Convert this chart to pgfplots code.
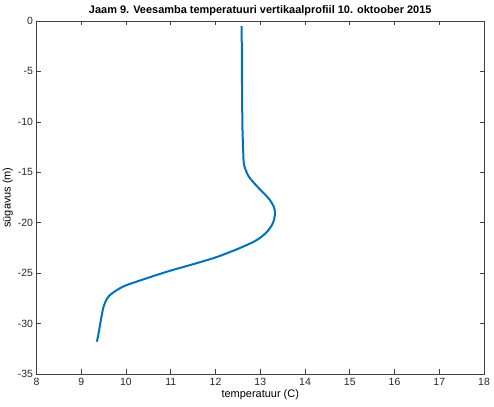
\documentclass[border=0pt]{standalone}
\usepackage{pgfplots}
\pgfplotsset{compat=1.18}
\usepackage{fontspec}
\setmainfont{Liberation Sans}
\definecolor{mblue}{rgb}{0,0.447,0.741}
\begin{document}
\begin{tikzpicture}
\begin{axis}[
  scale only axis,
  width=447.5bp, height=353bp,
  xmin=8, xmax=18, ymin=-35, ymax=0,
  xtick={8,9,...,18},
  ytick={-35,-30,-25,-20,-15,-10,-5,0},
  yticklabels={-35,-30,-25,-20,-15,-10,-5,0},
  tick align=inside,
  major tick length=4.5bp,
  axis line style={black!75, line width=0.6bp},
  tick style={black!75, line width=0.6bp},
  every tick label/.append style={font=\fontsize{10.5}{12}\selectfont, text=black!85},
  /pgf/number format/assume math mode=true,
  xticklabel style={yshift=-1bp},
  yticklabel style={xshift=0bp},
  title={\textbf{Jaam 9. Veesamba temperatuuri vertikaalprofiil 10. oktoober 2015}},
  title style={font=\fontsize{11}{13}\selectfont, yshift=-4bp},
  xlabel={temperatuur (C)},
  ylabel={sügavus (m)},
  label style={font=\fontsize{11}{13}\selectfont},
  xlabel style={yshift=3bp},
  ylabel style={yshift=-2bp},
]
\addplot[mblue, line width=2bp, smooth] coordinates {
(12.585,-0.5) (12.59,-5) (12.60,-10) (12.61,-11.8) (12.62,-13.1) (12.64,-14.3) (12.74,-15.4) (12.93,-16.4) (13.19,-17.6) (13.30,-18.4) (13.33,-19.1) (13.28,-20.06) (13.15,-20.9) (12.93,-21.7) (12.55,-22.5) (12.03,-23.4) (11.51,-24.1) (10.92,-24.85) (10.40,-25.6) (9.95,-26.3) (9.69,-27.0) (9.58,-27.5) (9.50,-28.3) (9.44,-29.6) (9.39,-30.9) (9.35,-31.8)
};
\end{axis}
\pgfresetboundingbox
\path (current axis.south west) ++(-36.5bp,-33bp) rectangle ++(494bp,407bp);
\end{tikzpicture}
\end{document}
